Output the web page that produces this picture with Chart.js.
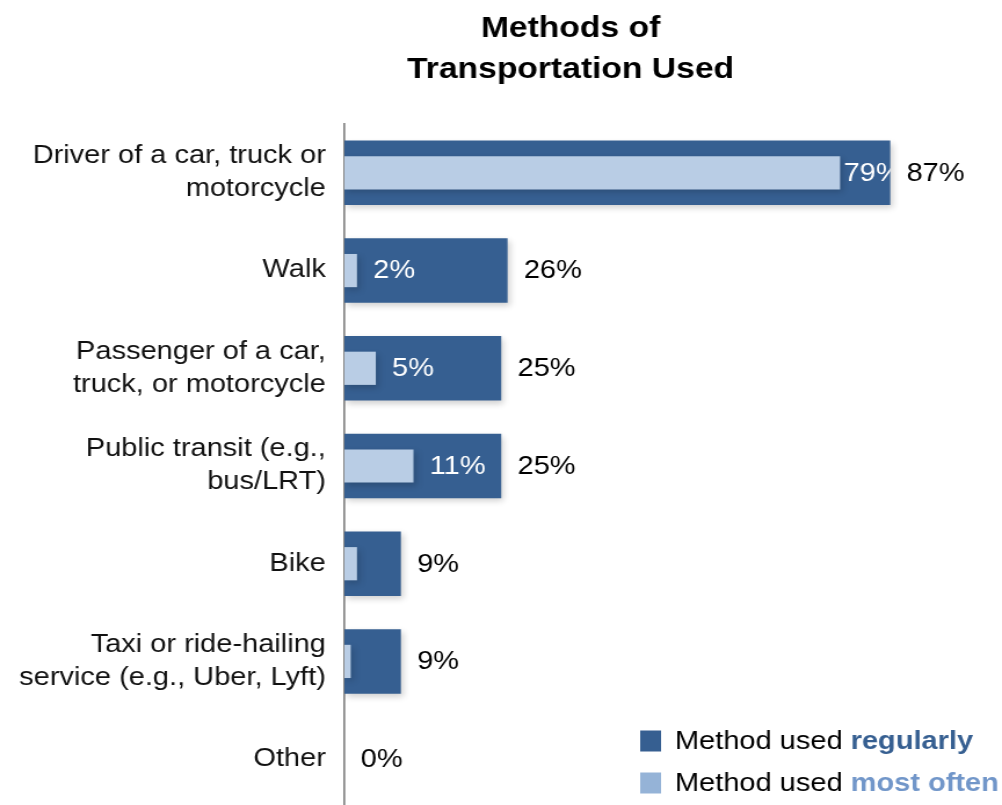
<!DOCTYPE html>
<html>
<head>
<meta charset="utf-8">
<script src="https://cdn.jsdelivr.net/npm/chart.js@4"></script>
<style>
html,body{margin:0;padding:0;background:#fff;overflow:hidden}
#wrap{position:absolute;left:0;top:0;width:864px;height:815px;transform:scaleX(1.1597);transform-origin:0 0}
</style>
</head>
<body>
<div id="wrap"><canvas id="chart"></canvas></div>
<script>

let categories = [
["Driver of a car, truck or","motorcycle"],
"Walk",
["Passenger of a car,","truck, or motorcycle"],
["Public transit (e.g.,","bus/LRT)"],
"Bike",
["Taxi or ride-hailing","service (e.g., Uber, Lyft)"],
"Other"
]

let regularly = [87,26,25,25,9,9,0]
let mostOften = [79,2,5,11,2,1,0]
let mostOftenLabelShown = [true,true,true,true,false,false,false]

let titleLines = ["Methods of","Transportation Used"]
let legendItems = [
{text:"Method used ", bold:"regularly", box:"#365F91", color:"#365F91"},
{text:"Method used ", bold:"most often", box:"#95B3D7", color:"#7196C9"}
]

let darkBlue = "#365F91"
let lightBlue = "#B9CDE5"
let font = "Liberation Sans, Arial, sans-serif"

let shadowPlugin = {
id:"shadow",
beforeDatasetDraw(chart){
let ctx = chart.ctx
ctx.save()
ctx.shadowColor = "rgba(0,0,0,0.18)"
ctx.shadowBlur = 6
ctx.shadowOffsetX = 2
ctx.shadowOffsetY = 3
},
afterDatasetDraw(chart){
chart.ctx.restore()
}
}

let labelPlugin = {
id:"labels",
afterDatasetsDraw(chart){
let ctx = chart.ctx
let dark = chart.getDatasetMeta(1).data
let light = chart.getDatasetMeta(0).data
ctx.save()
ctx.font = "25px " + font
ctx.textBaseline = "middle"
ctx.textAlign = "left"

for(let i=0;i<dark.length;i++){
ctx.fillStyle = "#000"
ctx.fillText(regularly[i] + "%", dark[i].x + 14, dark[i].y + 1)
}

for(let i=0;i<light.length;i++){
if(!mostOftenLabelShown[i]) continue
let txt = mostOften[i] + "%"
let w = ctx.measureText(txt).width
let x = light[i].x + 14
if(x + w > dark[i].x) x = light[i].x + 3
let d = dark[i]
ctx.save()
ctx.beginPath()
ctx.rect(d.base, d.y - d.height/2, d.x - d.base, d.height)
ctx.clip()
ctx.fillStyle = "#fff"
ctx.fillText(txt, x, light[i].y + 1)
ctx.restore()
}
ctx.restore()
}
}

let titlePlugin = {
id:"customTitle",
afterDraw(chart){
let ctx = chart.ctx
ctx.save()
ctx.font = "bold 29px " + font
ctx.fillStyle = "#000"
ctx.textAlign = "center"
ctx.textBaseline = "alphabetic"
ctx.fillText(titleLines[0], 492, 37)
ctx.fillText(titleLines[1], 492, 78)

ctx.font = "25px " + font
ctx.textAlign = "left"
let rows = [741, 783]
for(let i=0;i<legendItems.length;i++){
let it = legendItems[i]
let y = rows[i]
ctx.fillStyle = it.box
ctx.fillRect(552, y - 10.5, 18, 21)
ctx.font = "25px " + font
ctx.fillStyle = "#000"
ctx.textBaseline = "middle"
ctx.fillText(it.text, 582, y + 1)
let w = ctx.measureText(it.text).width
ctx.font = "bold 25px " + font
ctx.fillStyle = it.color
ctx.fillText(it.bold, 582 + w, y + 1)
}
ctx.restore()
}
}

new Chart(document.getElementById("chart"),{

type:"bar",

data:{
labels:categories,
datasets:[{
label:"Method used most often",
data:mostOften,
backgroundColor:lightBlue,
barPercentage:0.34,
categoryPercentage:1,
grouped:false,
order:0
},{
label:"Method used regularly",
data:regularly,
backgroundColor:darkBlue,
barPercentage:0.66,
categoryPercentage:1,
grouped:false,
order:1
}]
},

options:{
indexAxis:"y",
responsive:true,
maintainAspectRatio:false,
animation:false,
layout:{padding:{top:124,bottom:7,left:0,right:26}},
plugins:{
legend:{display:false},
tooltip:{enabled:false},
title:{display:false}
},
scales:{
x:{
display:false,
min:0,
max:100
},
y:{
grid:{display:false,drawTicks:false},
border:{display:true,color:"#868686",width:1.7},
ticks:{
color:"#111",
padding:16,
font:{family:font,size:25,lineHeight:1.32}
},
afterFit(scale){
scale.width = 297
scale.paddingTop = 0
scale.paddingBottom = 0
}
}
}
},

plugins:[shadowPlugin,labelPlugin,titlePlugin]

})

</script>
</body>
</html>
